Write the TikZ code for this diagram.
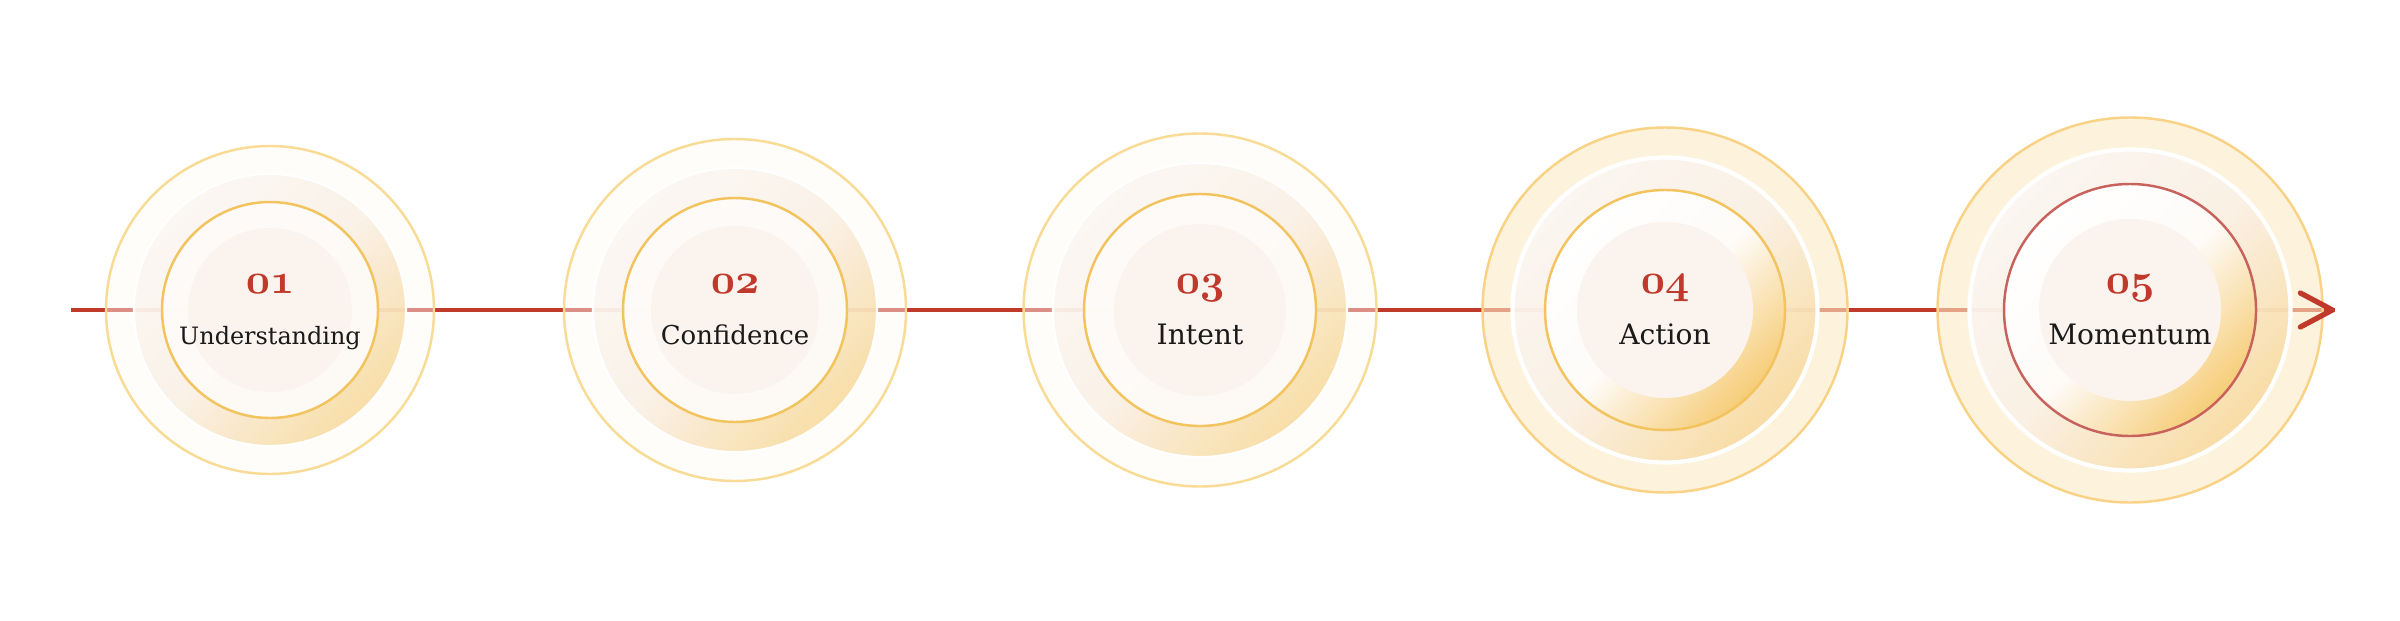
\documentclass[tikz,border=0pt]{standalone}
\usepackage{fontspec}
\setmainfont{DejaVu Serif}
\usetikzlibrary{arrows.meta}

\definecolor{linered}{HTML}{C0392B}
\definecolor{ringgold}{HTML}{F8DB94}
\definecolor{ringdeep}{HTML}{F3C35E}
\definecolor{outerfill}{HTML}{FFFBF4}
\definecolor{warmcream}{HTML}{FCEBC4}
\definecolor{paletop}{HTML}{FBF7F3}
\definecolor{midtone}{HTML}{FAF0E6}
\definecolor{goldlow}{HTML}{F8DBA0}
\definecolor{ringfill}{HTML}{FEFBF8}
\definecolor{discfill}{HTML}{FBF3EE}
\definecolor{goldglow}{HTML}{F6CD78}
\definecolor{rosering}{HTML}{C8625C}
\definecolor{inktext}{HTML}{1A1A1A}

\begin{document}
\begin{tikzpicture}[>=Stealth]
		\tikzstyle{flowline} = [draw=linered, line width=1pt]
		\tikzstyle{outerband} = [fill=outerfill, fill opacity=0.45]
		\tikzstyle{warmband} = [fill=warmcream, fill opacity=0.6]
		\tikzstyle{rim} = [draw=ringgold, line width=0.7pt]
		\tikzstyle{middisc} = [top color=paletop, bottom color=goldlow, middle color=midtone, shading angle=45, fill opacity=0.9]
		\tikzstyle{halo} = [draw=white, line width=0.6pt]
		\tikzstyle{innerring} = [draw=ringdeep, line width=0.7pt]
		\tikzstyle{ringarea} = [fill=ringfill, fill opacity=0.95]
		\tikzstyle{glowarea} = [top color=white, bottom color=goldglow, middle color=ringfill, shading angle=45]
		\tikzstyle{disc} = [fill=discfill]
		\tikzstyle{numtext} = [text=linered, anchor=base, inner sep=0pt, font=\fontsize{12}{14}\usefont{OML}{cmm}{b}{it}]
		\tikzstyle{steptext} = [text=inktext, anchor=base, inner sep=0pt, font=\fontsize{8}{9}\selectfont]

		\useasboundingbox (0,0) rectangle (24,6.2);

		\coordinate (start) at (0.71,3.10);
		\coordinate (p1) at (2.70,3.10);
		\coordinate (p2) at (7.35,3.10);
		\coordinate (p3) at (12.00,3.10);
		\coordinate (p4) at (16.65,3.10);
		\coordinate (p5) at (21.30,3.10);
		\coordinate (a5) at (23.24,3.10);
		\coordinate (tip) at (23.35,3.10);

		\draw[flowline] (start) -- (p1) -- (p2) -- (p3) -- (p4) -- (p5) -- (tip);

		\begin{scope}[xshift=2.70cm, yshift=3.10cm]
		\path[outerband, rim] (0,0) circle (1.64);
		\shade[middisc, halo] (0,0) circle (1.36);
		\path[ringarea, innerring] (0,0) circle (1.08);
		\path[disc] (0,0) circle (0.82);
		\node[numtext] (n1) at (0,0.165) {01};
		\node[steptext, font=\fontsize{6.8}{8}\selectfont] (t1) at (0,-0.34) {Understanding};
		\end{scope}

		\begin{scope}[xshift=7.35cm, yshift=3.10cm]
		\path[outerband, rim] (0,0) circle (1.71);
		\shade[middisc, halo] (0,0) circle (1.42);
		\path[ringarea, innerring] (0,0) circle (1.12);
		\path[disc] (0,0) circle (0.84);
		\node[numtext] (n2) at (0,0.165) {02};
		\node[steptext, font=\fontsize{7.4}{9}\selectfont] (t2) at (0,-0.34) {Confidence};
		\end{scope}

		\begin{scope}[xshift=12.00cm, yshift=3.10cm]
		\path[outerband, rim] (0,0) circle (1.765);
		\shade[middisc, halo] (0,0) circle (1.47);
		\path[ringarea, innerring] (0,0) circle (1.16);
		\path[disc] (0,0) circle (0.86);
		\node[numtext] (n3) at (0,0.165) {03};
		\node[steptext] (t3) at (0,-0.34) {Intent};
		\end{scope}

		\begin{scope}[xshift=16.65cm, yshift=3.10cm]
		\path[warmband, rim, draw=ringgold!90!orange] (0,0) circle (1.825);
		\shade[middisc, halo, line width=1.2pt] (0,0) circle (1.525);
		\shade[glowarea, innerring] (0,0) circle (1.20);
		\path[disc] (0,0) circle (0.88);
		\node[numtext] (n4) at (0,0.165) {04};
		\node[steptext] (t4) at (0,-0.34) {Action};
		\end{scope}

		\begin{scope}[xshift=21.30cm, yshift=3.10cm]
		\path[warmband, rim, draw=ringgold!90!orange] (0,0) circle (1.925);
		\shade[middisc, halo, line width=1.2pt] (0,0) circle (1.605);
		\shade[glowarea, innerring, draw=rosering] (0,0) circle (1.26);
		\path[disc] (0,0) circle (0.91);
		\node[numtext] (n5) at (0,0.165) {05};
		\node[steptext] (t5) at (0,-0.34) {Momentum};
		\end{scope}

		\draw[flowline, -{Straight Barb[length=3.2mm, width=3.4mm, line width=1.5pt, round]}] (a5) -- (tip);

		\end{tikzpicture}
\end{document}
